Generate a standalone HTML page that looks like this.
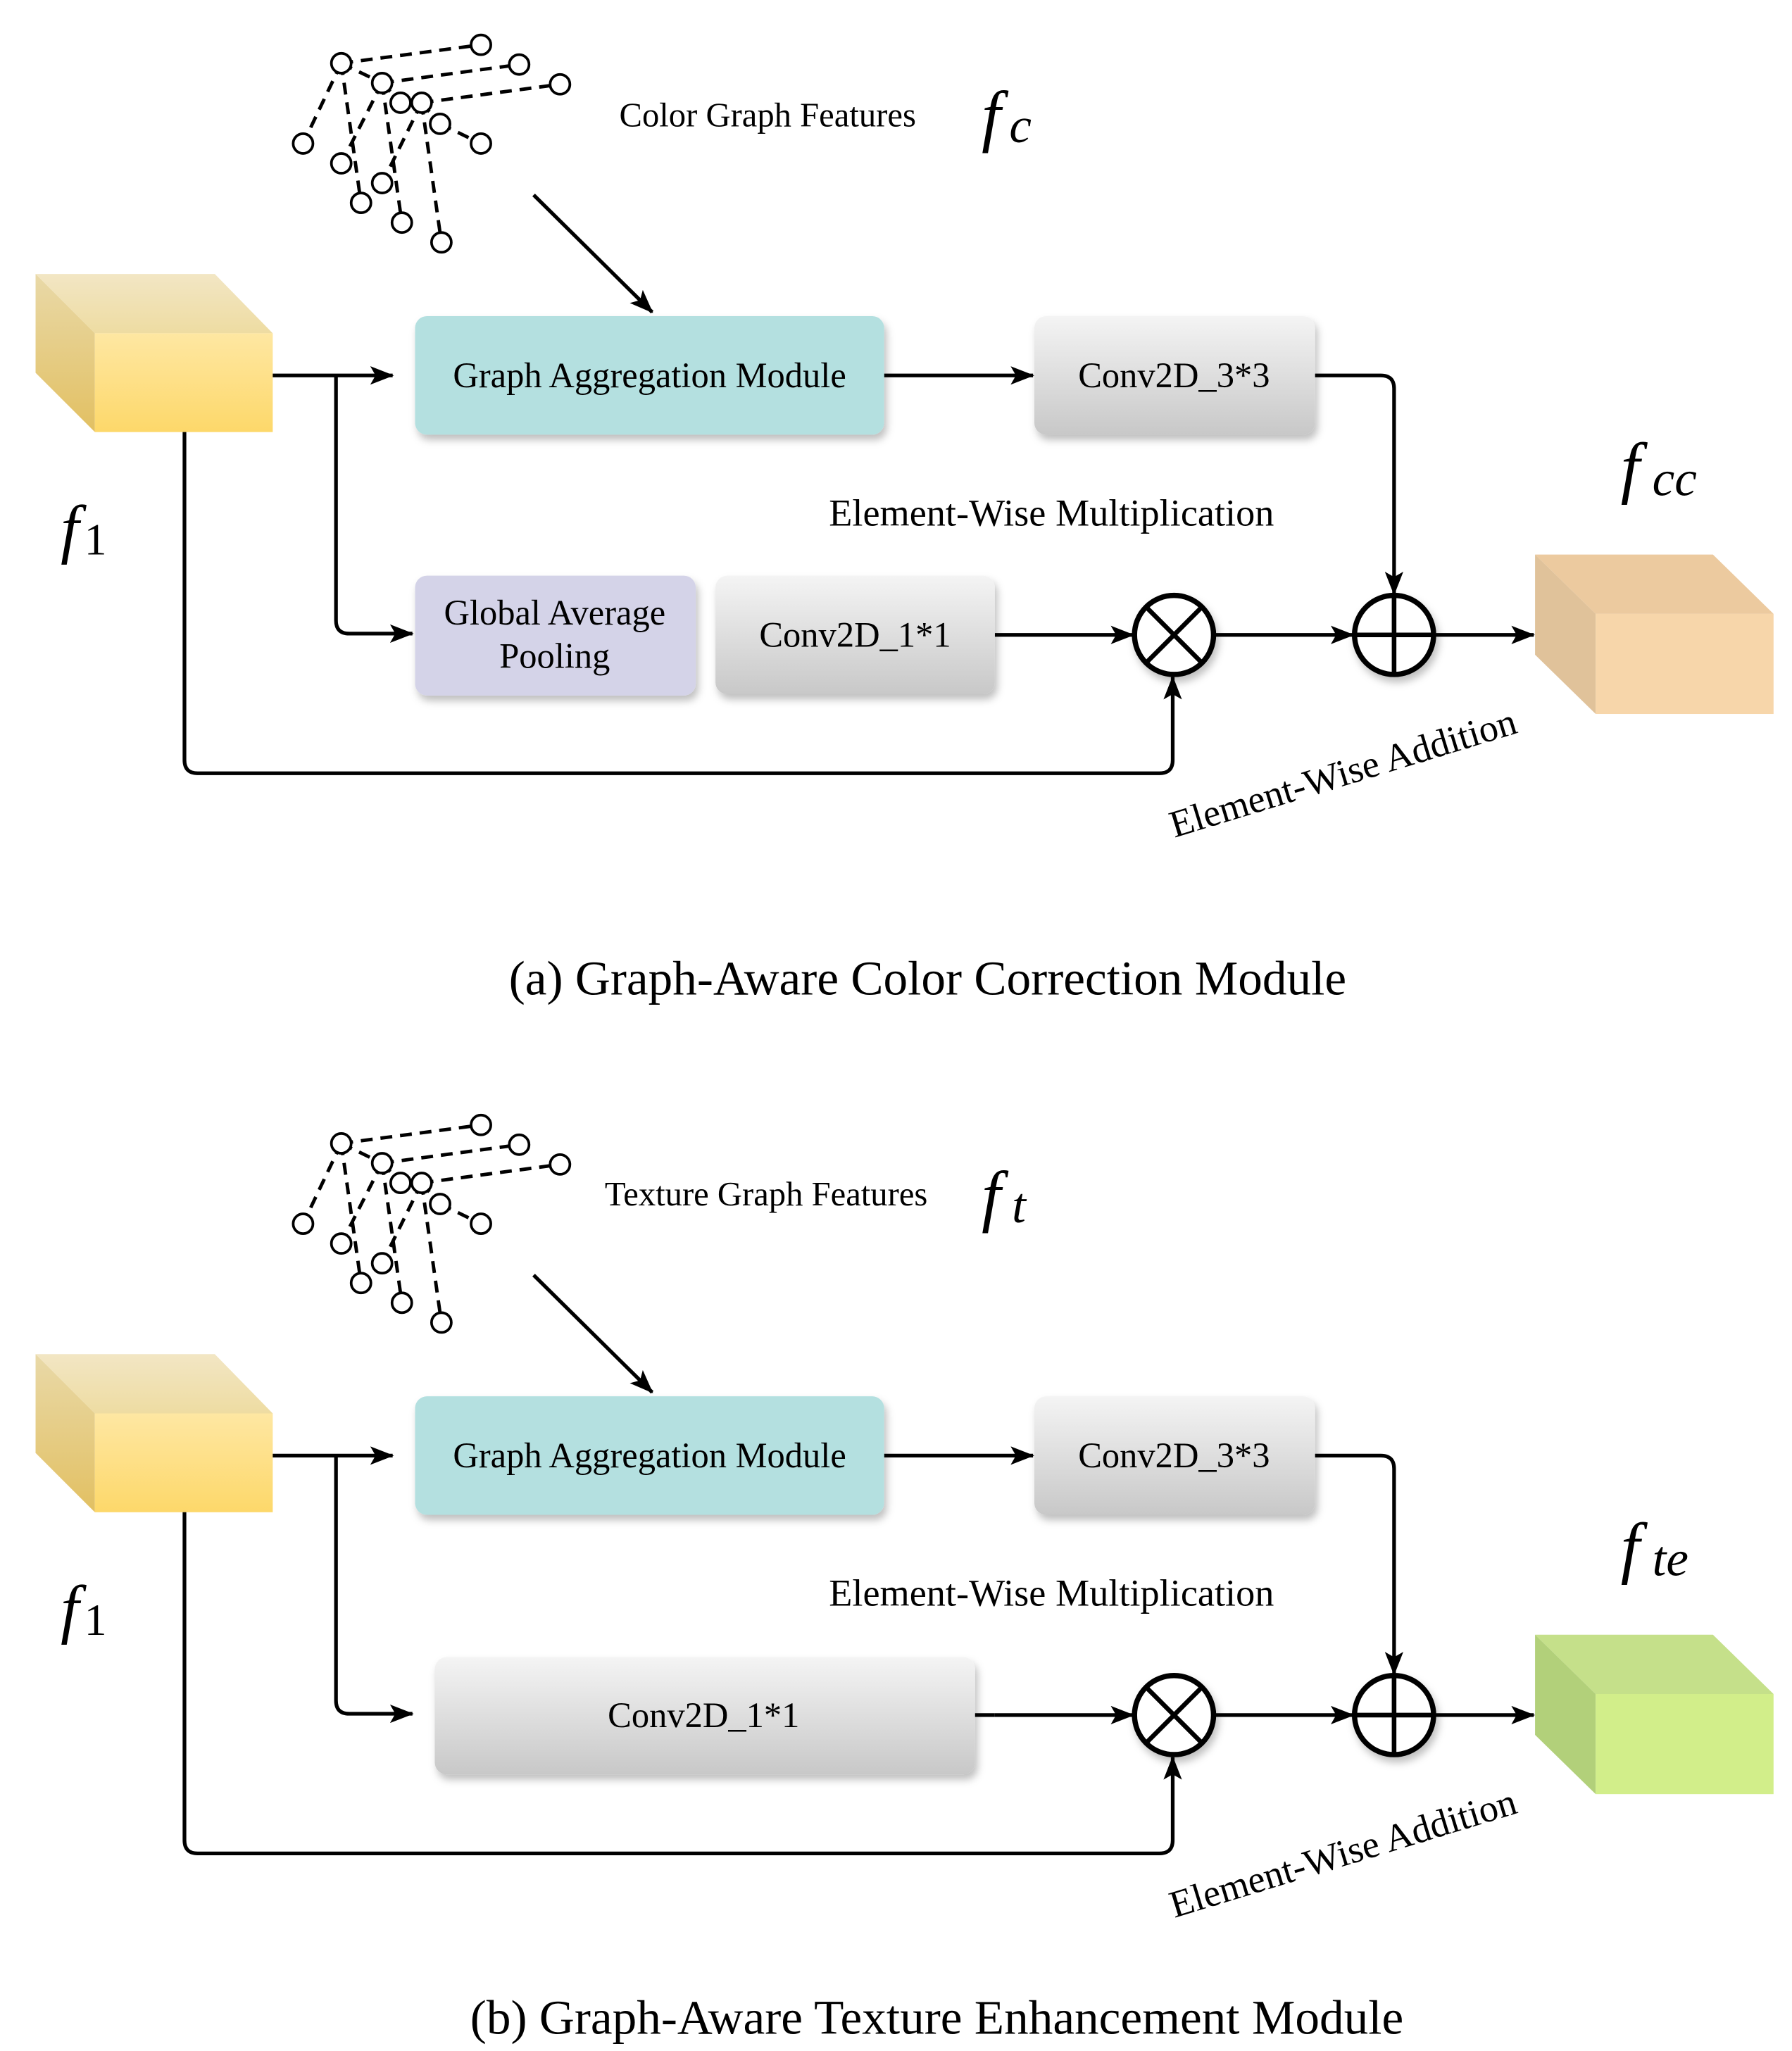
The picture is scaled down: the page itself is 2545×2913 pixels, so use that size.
<!DOCTYPE html>
<html><head><meta charset="utf-8"><style>
html,body{margin:0;padding:0;background:#fff;}
svg{display:block;}
text{font-family:"Liberation Serif",serif;fill:#000;}
</style></head><body>
<svg width="2545" height="2913" viewBox="0 0 1360 1557" preserveAspectRatio="none" xmlns="http://www.w3.org/2000/svg">
<defs>
<marker id="ar" markerWidth="18" markerHeight="14" refX="17" refY="7" orient="auto" markerUnits="userSpaceOnUse">
<path d="M0,0 L18,7 L0,14 L4,7 Z" fill="#000"/></marker>
<linearGradient id="gray" x1="0" y1="0" x2="0" y2="1"><stop offset="0" stop-color="#f4f4f4"/><stop offset="1" stop-color="#c8c8c8"/></linearGradient>
<linearGradient id="yf" x1="0" y1="0" x2="0" y2="1"><stop offset="0" stop-color="#fee7a2"/><stop offset="1" stop-color="#fdd86a"/></linearGradient>
<linearGradient id="yt" x1="0" y1="0" x2="0" y2="1"><stop offset="0" stop-color="#f2e6c4"/><stop offset="1" stop-color="#eedca2"/></linearGradient>
<linearGradient id="yl" x1="0" y1="0" x2="0" y2="1"><stop offset="0" stop-color="#e9d9a8"/><stop offset="1" stop-color="#e2c062"/></linearGradient>
<filter id="sh" x="-10%" y="-10%" width="125%" height="135%"><feDropShadow dx="2" dy="4" stdDeviation="3" flood-color="#000" flood-opacity="0.25"/></filter>
<g id="graph" fill="none" stroke="#000" stroke-width="2.6">
<g stroke-dasharray="9,6">
<line x1="259" y1="48" x2="365" y2="34"/><line x1="259" y1="48" x2="230" y2="109"/>
<line x1="259" y1="48" x2="274" y2="154"/><line x1="259" y1="48" x2="290" y2="63"/>
<line x1="290" y1="63" x2="394" y2="49"/><line x1="290" y1="63" x2="259" y2="124"/>
<line x1="290" y1="63" x2="305" y2="169"/><line x1="290" y1="63" x2="304" y2="78"/>
<line x1="320" y1="78" x2="425" y2="64"/><line x1="320" y1="78" x2="290" y2="139"/>
<line x1="320" y1="78" x2="335" y2="184"/><line x1="320" y1="78" x2="334" y2="94"/>
<line x1="334" y1="94" x2="365" y2="109"/>
</g>
<g fill="#fff" stroke-width="2">
<circle cx="259" cy="48" r="7.5"/><circle cx="365" cy="34" r="7.5"/><circle cx="394" cy="49" r="7.5"/>
<circle cx="425" cy="64" r="7.5"/><circle cx="290" cy="63" r="7.5"/><circle cx="304" cy="78" r="7.5"/>
<circle cx="320" cy="78" r="7.5"/><circle cx="334" cy="94" r="7.5"/><circle cx="365" cy="109" r="7.5"/>
<circle cx="230" cy="109" r="7.5"/><circle cx="259" cy="124" r="7.5"/><circle cx="290" cy="139" r="7.5"/>
<circle cx="274" cy="154" r="7.5"/><circle cx="305" cy="169" r="7.5"/><circle cx="335" cy="184" r="7.5"/>
</g></g>
<g id="common">
<use href="#graph"/>
<line x1="405" y1="148" x2="495" y2="237" stroke="#000" stroke-width="2.8" marker-end="url(#ar)"/>
<polygon points="27,208 163,208 207,253 72,253" fill="url(#yt)"/>
<polygon points="27,208 72,253 72,328 27,283" fill="url(#yl)"/>
<rect x="72" y="253" width="135" height="75" fill="url(#yf)"/>
<text x="46" y="418" font-size="50" font-style="italic">f</text><text x="64" y="421" font-size="34">1</text>
<g stroke="#000" stroke-width="2.8" fill="none">
<line x1="207" y1="285" x2="298" y2="285" marker-end="url(#ar)"/>
<path d="M140,328 V577 Q140,587 150,587 H880 Q890,587 890,577 V514" marker-end="url(#ar)"/>
<line x1="671" y1="285" x2="784" y2="285" marker-end="url(#ar)"/>
<path d="M998,285 H1048 Q1058,285 1058,295 V451" marker-end="url(#ar)"/>
<line x1="755" y1="482" x2="860" y2="482" marker-end="url(#ar)"/>
<line x1="922" y1="482" x2="1027" y2="482" marker-end="url(#ar)"/>
<line x1="1089" y1="482" x2="1164" y2="482" marker-end="url(#ar)"/>
</g>
<rect x="315" y="240" width="356" height="90" rx="9" fill="#b4e0e0" filter="url(#sh)"/>
<text x="493" y="294" font-size="27" text-anchor="middle">Graph Aggregation Module</text>
<rect x="785" y="240" width="213" height="90" rx="9" fill="url(#gray)" filter="url(#sh)"/>
<text x="891" y="294" font-size="27" text-anchor="middle">Conv2D_3*3</text>
<text x="798" y="399" font-size="29" text-anchor="middle">Element-Wise Multiplication</text>
<g filter="url(#sh)" stroke="#000" stroke-width="4" fill="#fff">
<circle cx="891" cy="482" r="30"/><circle cx="1058" cy="482" r="30"/></g>
<g stroke="#000" stroke-width="3.5">
<line x1="870" y1="461" x2="912" y2="503"/><line x1="912" y1="461" x2="870" y2="503"/>
<line x1="1028" y1="482" x2="1088" y2="482"/><line x1="1058" y1="452" x2="1058" y2="512"/></g>
<text transform="translate(1022,596) rotate(-17)" font-size="29" text-anchor="middle">Element-Wise Addition</text>
</g>
</defs>

<!-- (a) -->
<use href="#common"/>
<text x="470" y="96" font-size="26">Color Graph Features</text>
<text x="745" y="105" font-size="52" font-style="italic">f</text><text x="766" y="108" font-size="38" font-style="italic">c</text>
<rect x="315" y="437" width="213" height="91" rx="9" fill="#d4d3e8" filter="url(#sh)"/>
<text x="421" y="474" font-size="27" text-anchor="middle">Global Average</text>
<text x="421" y="507" font-size="27" text-anchor="middle">Pooling</text>
<rect x="543" y="437" width="212" height="90" rx="9" fill="url(#gray)" filter="url(#sh)"/>
<text x="649" y="491" font-size="27" text-anchor="middle">Conv2D_1*1</text>
<path d="M255,285 V471 Q255,481 265,481 H313" stroke="#000" stroke-width="2.8" fill="none" marker-end="url(#ar)"/>
<polygon points="1165,421 1300,421 1346,466 1211,466" fill="#ecca9f"/>
<polygon points="1165,421 1211,466 1211,542 1165,497" fill="#e0c29a"/>
<rect x="1211" y="466" width="135" height="76" fill="#f7d6aa"/>
<text x="1230" y="372" font-size="52" font-style="italic">f</text><text x="1254" y="376" font-size="38" font-style="italic">cc</text>
<text x="704" y="755" font-size="37" text-anchor="middle">(a) Graph-Aware Color Correction Module</text>

<!-- (b) -->
<g transform="translate(0,820)"><use href="#common"/></g>
<text x="459" y="915" font-size="26">Texture Graph Features</text>
<text x="745" y="925" font-size="52" font-style="italic">f</text><text x="768" y="928" font-size="38" font-style="italic">t</text>
<rect x="330" y="1258" width="410" height="89" rx="9" fill="url(#gray)" filter="url(#sh)"/>
<text x="534" y="1311" font-size="27" text-anchor="middle">Conv2D_1*1</text>
<path d="M255,1105 V1291 Q255,1301 265,1301 H313" stroke="#000" stroke-width="2.8" fill="none" marker-end="url(#ar)"/>
<line x1="740" y1="1302" x2="755" y2="1302" stroke="#000" stroke-width="2.8"/>
<polygon points="1165,1241 1300,1241 1346,1286 1211,1286" fill="#c5e08a"/>
<polygon points="1165,1241 1211,1286 1211,1362 1165,1317" fill="#b2d07a"/>
<rect x="1211" y="1286" width="135" height="76" fill="#d2ee8a"/>
<text x="1230" y="1192" font-size="52" font-style="italic">f</text><text x="1254" y="1196" font-size="38" font-style="italic">te</text>
<text x="711" y="1544" font-size="37" text-anchor="middle">(b) Graph-Aware Texture Enhancement Module</text>
</svg>
</body></html>
